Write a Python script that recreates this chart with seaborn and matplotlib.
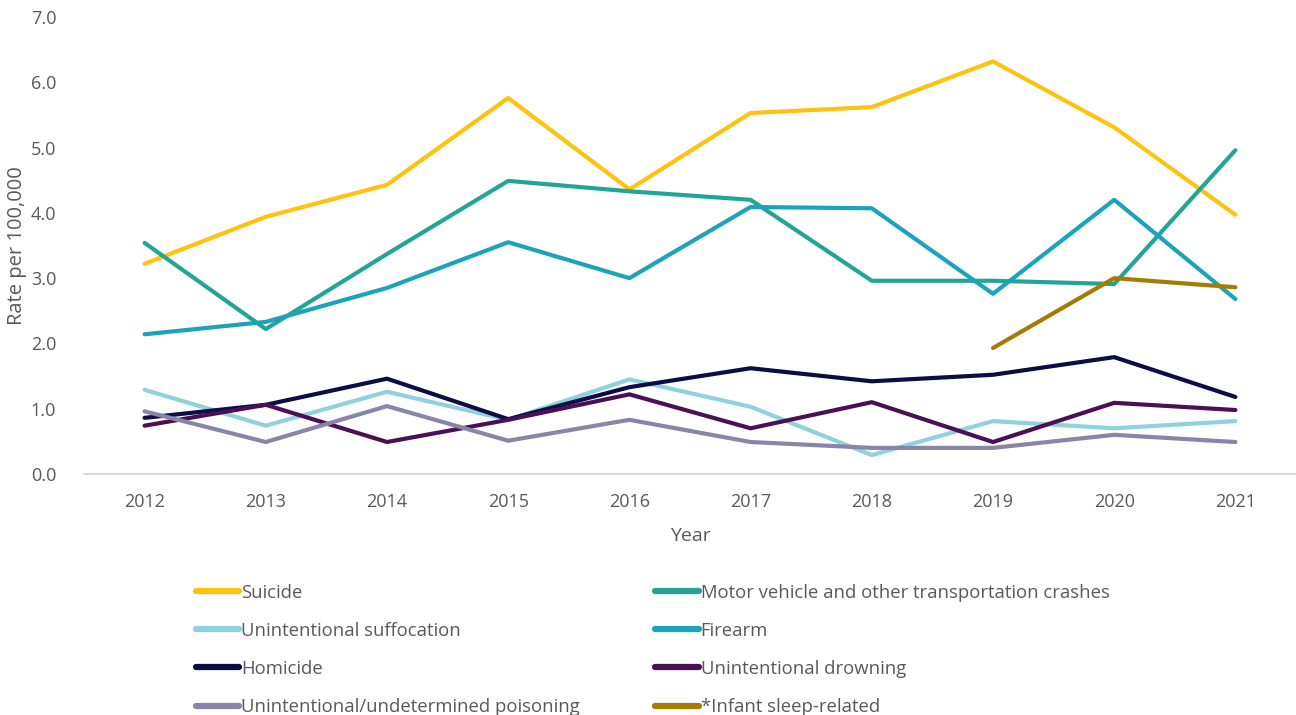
import numpy as np
import pandas as pd
import matplotlib
matplotlib.use("Agg")
import matplotlib.pyplot as plt
import seaborn as sns

years = [2012, 2013, 2014, 2015, 2016, 2017, 2018, 2019, 2020, 2021]

suicide = [3.22, 3.94, 4.43, 5.76, 4.36, 5.53, 5.62, 6.32, 5.31, 3.97]
motor_vehicle = [3.54, 2.22, 3.37, 4.49, 4.33, 4.20, 2.96, 2.96, 2.91, 4.96]
suffocation = [1.29, 0.74, 1.26, 0.83, 1.45, 1.03, 0.29, 0.81, 0.70, 0.81]
firearm = [2.14, 2.33, 2.85, 3.55, 3.00, 4.09, 4.07, 2.76, 4.20, 2.68]
homicide = [0.86, 1.06, 1.46, 0.84, 1.33, 1.62, 1.42, 1.52, 1.79, 1.18]
drowning = [0.74, 1.06, 0.49, 0.83, 1.22, 0.70, 1.10, 0.49, 1.09, 0.98]
poisoning = [0.96, 0.49, 1.04, 0.51, 0.83, 0.49, 0.40, 0.40, 0.60, 0.49]
infant_sleep = [None, None, None, None, None, None, None, 1.93, 3.00, 2.86]

series_names = [
    "Suicide",
    "Motor vehicle and other transportation crashes",
    "Unintentional suffocation",
    "Firearm",
    "Homicide",
    "Unintentional drowning",
    "Unintentional/undetermined poisoning",
    "*Infant sleep-related",
]
series_values = [suicide, motor_vehicle, suffocation, firearm,
                 homicide, drowning, poisoning, infant_sleep]
colors = ["#FFC20E", "#23A596", "#8FD1DC", "#1AA3BB",
          "#0C0C47", "#4A0F55", "#8786A8", "#A67C00"]

rows = []
for name, vals in zip(series_names, series_values):
    for yr, v in zip(years, vals):
        if v is not None:
            rows.append({"Year": yr, "Rate": v, "Cause": name})
df = pd.DataFrame(rows)

sns.set_theme(style="white")
plt.rcParams["font.family"] = ["Open Sans", "DejaVu Sans"]
text_color = "#595959"

fig = plt.figure(figsize=(12.96, 7.15), dpi=100)
ax = fig.add_axes([84 / 1296, 1 - 474 / 715, (1296 - 84) / 1296, (474 - 17) / 715])

palette = dict(zip(series_names, colors))
sns.lineplot(data=df, x="Year", y="Rate", hue="Cause", hue_order=series_names,
             palette=palette, linewidth=3, ax=ax, legend=False)

ax.set_xlim(2011.5, 2021.5)
ax.set_ylim(0, 7)
ax.set_xticks(years)
ax.set_xticklabels([str(y) for y in years])
ax.set_yticks(np.arange(0, 7.01, 1.0))
ax.set_yticklabels([f"{v:.1f}" for v in np.arange(0, 7.01, 1.0)])
ax.tick_params(axis="both", labelsize=13, colors=text_color, length=0)
ax.tick_params(axis="x", pad=14)
ax.tick_params(axis="y", pad=20)

for side in ["top", "right", "left"]:
    ax.spines[side].set_visible(False)
ax.spines["bottom"].set_color("#D9D9D9")
ax.spines["bottom"].set_linewidth(1.5)
ax.grid(False)

ax.set_xlabel("Year", fontsize=14, color=text_color, labelpad=11)
ax.set_ylabel("Rate per 100,000", fontsize=14.5, color=text_color, labelpad=3)

# Two-column legend below the plot, filled column by column
order = [0, 2, 4, 6, 1, 3, 5, 7]
handles = [plt.Line2D([0], [0], color=colors[i], linewidth=4.5, solid_capstyle="round")
           for i in order]
labels = [series_names[i] for i in order]
fig.legend(handles, labels, ncol=2, loc="upper left",
           bbox_to_anchor=(179 / 1296, 1 - 567 / 715),
           frameon=False, fontsize=13.3, labelcolor=text_color,
           handlelength=2.35, handletextpad=0.1, columnspacing=4.1,
           labelspacing=1.09)

fig.savefig("out.png", dpi=100)
